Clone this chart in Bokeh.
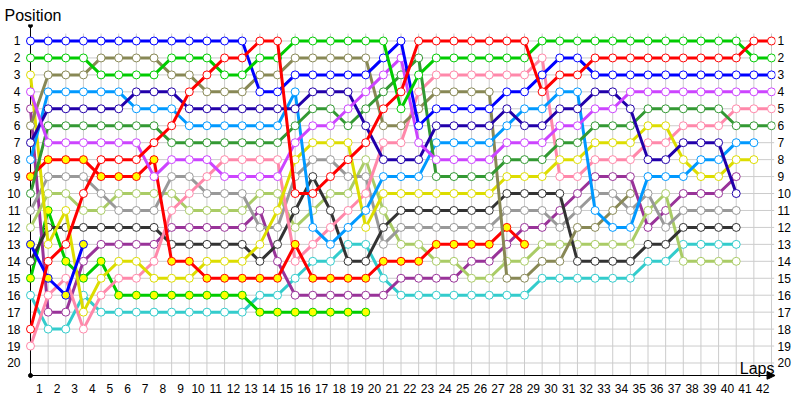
from bokeh.plotting import figure
from bokeh.models import Range1d, FixedTicker, Label, Arrow, NormalHead, LinearAxis, Title
from bokeh.embed import file_html
from bokeh.resources import INLINE

# ---- data: position after each lap (index 0 = grid) ----
laps = list(range(1, 43))
positions = list(range(1, 21))

blue = [1,1,1,1,1,1,1,1,1,1,1,1,1,4,4,3,3,3,3,3,2,1,6,5,5,5,5,4,4,3,2,2,3,3,3,3,3,3,3,3,3,3,3]
green = [2,2,2,2,3,3,3,3,2,2,2,3,3,2,2,1,1,1,1,1,1,5,3,2,2,2,2,2,2,1,1,1,1,1,1,1,1,1,1,1,1,2,2]
olive = [6,3,3,3,2,2,2,2,3,3,4,4,4,3,3,2,2,2,2,2,6,6,5,4,4,4,4,15,15,14,14,12,12,11,10]
azure = [8,4,4,4,4,4,5,5,5,6,6,6,6,6,6,4,12,13,12,11,9,9,9,7,7,7,7,6,5,5,4,4,11,12,12,9,9,9,8,8,7,7]
navy = [7,5,5,5,5,5,4,4,4,5,5,5,5,5,5,5,4,4,4,6,8,8,8,6,6,6,6,5,6,6,5,5,4,4,5,8,8,7,7,7,10]
dkgreen = [10,6,6,6,6,6,6,6,7,7,7,7,7,7,7,6,5,5,6,5,4,3,2,9,9,9,9,8,8,8,7,7,6,6,6,5,5,5,5,5,6,6,6]
violet = [4,7,7,7,7,7,7,9,8,8,8,9,9,9,9,7,6,6,5,4,3,2,7,8,8,8,8,7,7,7,6,6,5,5,4,4,4,4,4,4,4,4,4]
red = [18,14,13,10,8,8,8,7,6,4,3,2,2,1,1,10,10,9,8,7,5,4,1,1,1,1,1,1,1,4,3,3,2,2,2,2,2,2,2,2,2,1,1]
red_b = [9,8,8,8,9,9,9,8,14,14,15,15,15,15,15,13,15,15,15,15,14,14,14,13,13,13,13,12,13]
yellow = [3,13,11,17,15,14,14,15,15,15,14,14,14,13,11,8,7,7,7,12,10,10,10,10,10,10,10,9,9,9,8,8,7,7,7,6,6,8,9,9,8,8]
gray = [11,9,9,9,10,11,11,11,9,9,10,10,10,12,12,9,8,8,9,9,13,12,12,12,12,12,12,11,11,11,12,11,10,10,11,10,12,11,11,11,11]
lgreen = [12,10,10,11,11,10,10,10,10,11,11,11,11,10,10,12,11,10,10,8,11,13,13,14,14,15,15,14,14,13,13,13,13,13,13,11,10,14,14,14,14]
dkgray = [14,12,12,12,12,12,12,12,13,13,13,13,13,14,13,11,9,11,14,14,12,11,11,11,11,11,11,10,10,10,10,14,14,14,14,13,13,12,12,12,12]
purple = [5,17,17,14,13,13,13,13,12,12,12,12,12,11,14,16,16,16,16,16,16,15,15,15,15,14,14,13,12,12,11,10,9,9,9,12,11,10,10,10,9]
pink = [19,16,15,18,16,15,15,14,11,10,9,8,8,8,8,14,13,12,11,10,7,7,4,3,3,3,3,3,3,2,9,9,8,8,8,7,7,6,6,6,5,5,5]
cyan = [16,18,18,16,17,17,17,17,17,17,17,17,17,16,16,15,14,14,13,13,15,16,16,16,16,16,16,16,16,15,15,15,15,15,15,14,14,13,13,13,13]
green_b = [15,11,14,15,14,16,16,16,16,16,16,16,16,17,17,17,17,17,17,17]
blue_b = [13,15,16,13]

drivers = [
    (cyan, "#33CCCC", "white"),
    (green_b, "#00CC00", "#FFFF00"),
    (purple, "#993399", "white"),
    (lgreen, "#AACC66", "white"),
    (gray, "#999999", "white"),
    (dkgray, "#333333", "white"),
    (pink, "#FF88AA", "white"),
    (yellow, "#DDDD00", "white"),
    (red_b, "#FF0000", "#FFFF00"),
    (blue_b, "#0000FF", "#FFFF00"),
    (olive, "#888855", "white"),
    (azure, "#0099FF", "white"),
    (dkgreen, "#339933", "white"),
    (navy, "#2200AA", "white"),
    (violet, "#CC44FF", "white"),
    (blue, "#0000FF", "white"),
    (green, "#00CC00", "white"),
    (red, "#FF0000", "white"),
]

FONT = "Liberation Sans"
x_left, x_right = -0.340, 42.226
y_top, y_bot = 0.0264, 20.974
x_axis_pos = 20.738     # level of the lap axis
y_axis_top = 0.085
grid_top = 0.56
grid_right = 42.15
last_col = len(laps)

p = figure(width=800, height=400, output_backend="svg", toolbar_location=None,
           x_range=Range1d(x_left, x_right), y_range=Range1d(y_bot, y_top),
           min_border_left=24, min_border_right=25, min_border_top=24, min_border_bottom=21,
           outline_line_color=None, background_fill_color="white", border_fill_color="white")
p.title.visible = False
p.xgrid.visible = False
p.ygrid.visible = False

p.add_layout(Title(text="Position", align="left", offset=-20, standoff=2,
                   text_font=FONT, text_font_size="16px", text_font_style="normal",
                   text_color="black"), "above")

# grid
cols = list(range(last_col + 1))
p.segment(x0=cols, y0=[grid_top] * len(cols), x1=cols, y1=[x_axis_pos] * len(cols),
          line_color="#CCCCCC", line_width=1)
p.segment(x0=[0] * len(positions), y0=positions, x1=[grid_right] * len(positions), y1=positions,
          line_color="#CCCCCC", line_width=1)

# axis lines
p.segment(x0=[0], y0=[y_axis_top], x1=[0], y1=[x_axis_pos], line_color="black", line_width=1)
p.add_layout(Arrow(end=NormalHead(size=8, fill_color="black", line_color="black"),
                   x_start=0, y_start=x_axis_pos, x_end=42.2, y_end=x_axis_pos,
                   line_color="black", line_width=1))
p.scatter([0, 0], [y_axis_top, x_axis_pos], size=4, color="black")

for data, col, fill in drivers:
    xs = list(range(len(data)))
    p.line(xs, data, line_color=col, line_width=3)
    p.scatter(xs, data, marker="circle", size=8, fill_color=fill, line_color=col, line_width=1)

def style(ax, standoff):
    ax.axis_line_color = None
    ax.major_tick_line_color = None
    ax.minor_tick_line_color = None
    ax.major_tick_out = 0
    ax.minor_tick_out = 0
    ax.major_tick_in = 0
    ax.minor_tick_in = 0
    ax.major_label_text_font = FONT
    ax.major_label_text_font_size = "12px"
    ax.major_label_text_color = "#000000"
    ax.major_label_standoff = standoff

ly = p.yaxis[0]
ly.ticker = FixedTicker(ticks=positions)
style(ly, 4)

ry = LinearAxis(ticker=FixedTicker(ticks=positions))
style(ry, 2)
p.add_layout(ry, "right")

bx = p.xaxis[0]
bx.ticker = FixedTicker(ticks=[n - 0.5 for n in laps])
bx.major_label_overrides = {n - 0.5: str(n) for n in laps}
style(bx, 4)

p.add_layout(Label(x=42.17, y=20.32, text="Laps", text_align="right", text_baseline="alphabetic",
                   text_font=FONT, text_font_size="16px", text_color="black"))

open("out.html", "w").write(file_html(p, INLINE))
